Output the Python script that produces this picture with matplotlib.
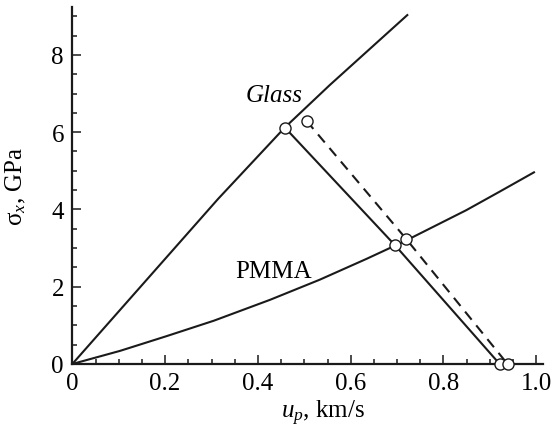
import matplotlib
matplotlib.use("Agg")
import matplotlib.pyplot as plt
from matplotlib.ticker import MultipleLocator

plt.rcParams['font.family'] = ['Liberation Serif', 'DejaVu Serif']
plt.rcParams['mathtext.fontset'] = 'custom'
plt.rcParams['mathtext.rm'] = 'Liberation Serif'
plt.rcParams['mathtext.it'] = 'Liberation Serif:italic'

# Glass Hugoniot
glass_u = [0.0, 0.314, 0.458, 0.555, 0.722]
glass_s = [0.0, 4.27, 6.12, 7.22, 9.03]

# PMMA Hugoniot
pmma_u = [0.0, 0.103, 0.203, 0.305, 0.426, 0.533, 0.634, 0.695, 0.72, 0.849, 0.921, 0.995]
pmma_s = [0.0, 0.34, 0.72, 1.12, 1.66, 2.18, 2.72, 3.06, 3.20, 3.98, 4.46, 4.96]

# Release path (solid)
rel_u = [0.458, 0.695, 0.921]
rel_s = [6.12, 3.08, 0.0]

# Release path (dashed)
dash_u = [0.505, 0.72, 0.938]
dash_s = [6.29, 3.23, 0.0]

fig = plt.figure(figsize=(5.55, 4.39), dpi=100)
ax = fig.add_axes([0.1303, 0.1686, 0.978 - 0.1303, 0.981 - 0.1686])

lw = 1.5
ax.plot(glass_u, glass_s, color='#1a1a1a', lw=lw, zorder=2)
ax.plot(pmma_u, pmma_s, color='#1a1a1a', lw=lw, zorder=2)
ax.plot(rel_u, rel_s, color='#1a1a1a', lw=lw, zorder=2)
ax.plot(dash_u, dash_s, color='#1a1a1a', lw=lw, ls=(0, (5, 3.5)), zorder=2)

mk = dict(marker='o', ms=8, mfc='white', mec='#1a1a1a', mew=1.0, ls='none', zorder=4, clip_on=False)
ax.plot(rel_u, rel_s, **mk)
ax.plot(dash_u, dash_s, **mk)

ax.text(0.434, 6.81, 'Glass', fontsize=18, style='italic', ha='center', va='baseline')
ax.text(0.434, 2.24, 'PMMA', fontsize=18, ha='center', va='baseline')

ax.set_xlim(0, 1.014)
ax.set_ylim(0, 9.23)
ax.xaxis.set_major_locator(MultipleLocator(0.2))
ax.xaxis.set_minor_locator(MultipleLocator(0.05))
ax.yaxis.set_major_locator(MultipleLocator(2))
ax.yaxis.set_minor_locator(MultipleLocator(0.5))
ax.set_xticks([0, 0.2, 0.4, 0.6, 0.8, 1.0])
ax.set_xticklabels(['0', '0.2', '0.4', '0.6', '0.8', '1.0'])

for s in ['top', 'right']:
    ax.spines[s].set_visible(False)
for s in ['left', 'bottom']:
    ax.spines[s].set_linewidth(1.6)
    ax.spines[s].set_color('#1a1a1a')

ax.tick_params(which='major', direction='in', length=6.5, width=1.1, labelsize=18, pad=6, color='#1a1a1a')
ax.tick_params(which='minor', direction='in', length=3.6, width=1.1, color='#1a1a1a')

ax.set_xlabel(r'$u_p$, km/s', fontsize=18)
ax.set_ylabel(r'$\mathrm{σ}_x$, GPa', fontsize=18)
ax.xaxis.set_label_coords(0.533, -0.095)
ax.yaxis.set_label_coords(-0.094, 0.5)

fig.savefig('out.png', dpi=100)
